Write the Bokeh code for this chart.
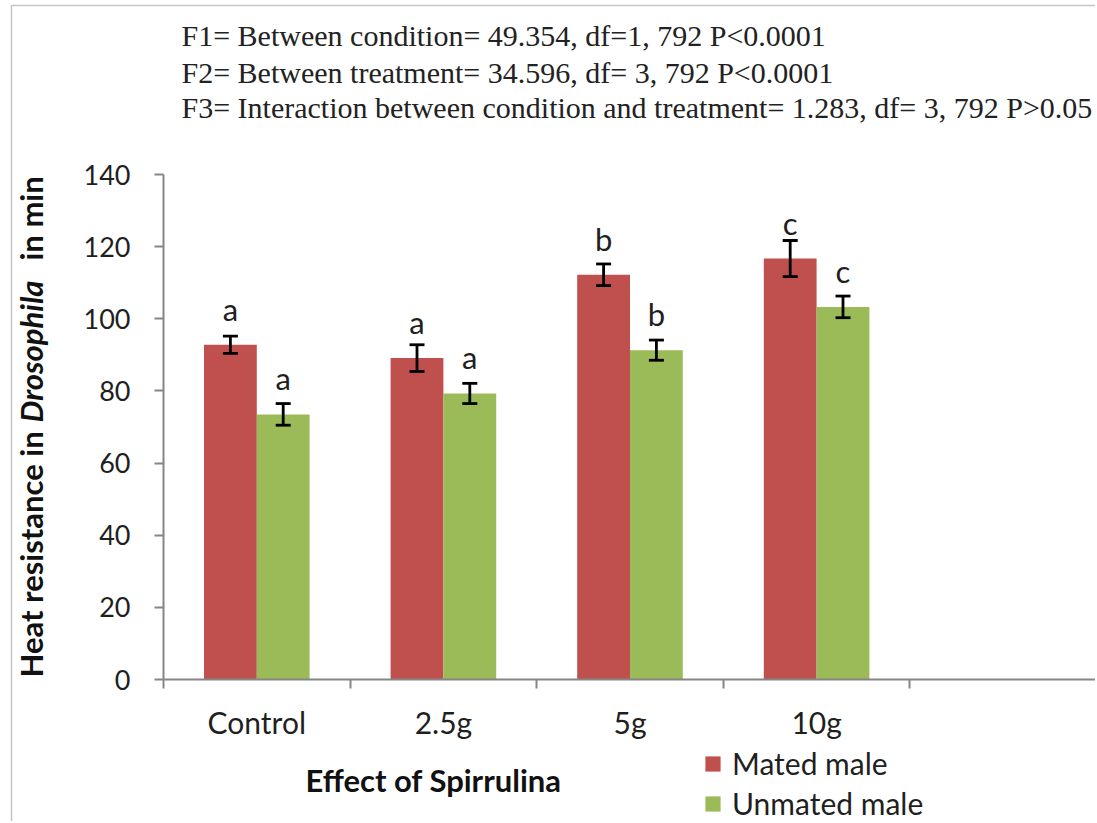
import math
from bokeh.plotting import figure
from bokeh.models import (ColumnDataSource, Range1d, FixedTicker, Label, Legend,
                          LegendItem, BoxAnnotation)
from bokeh.core.properties import value
from bokeh.embed import file_html
from bokeh.resources import INLINE

# ---------------- data ----------------
categories = ["Control", "2.5g", "5g", "10g"]
mated = [92.8, 89.1, 112.2, 116.7]
mated_err = [2.4, 3.7, 3.0, 5.0]
unmated = [73.5, 79.3, 91.3, 103.3]
unmated_err = [3.0, 2.8, 2.8, 3.0]
mated_letters = ["a", "a", "b", "c"]
unmated_letters = ["a", "a", "b", "c"]
y_ticks = [0, 20, 40, 60, 80, 100, 120, 140]
stats_lines = [
    "F1= Between condition= 49.354, df=1, 792 P<0.0001",
    "F2= Between treatment= 34.596, df= 3, 792 P<0.0001",
    "F3= Interaction between condition and treatment= 1.283, df= 3, 792 P>0.05",
]
series_names = ["Mated male", "Unmated male"]
colors = ["#C0504D", "#9BBB59"]

# ---------------- layout (page pixels) ----------------
W, H = 1095, 821
LEFT, TOP = 163, 174          # position of x=0 / y=140
FRAME_BOTTOM = 679            # position of y=0
px_per_cat = 186.6
px_per_y = (FRAME_BOTTOM - TOP) / 140.0

def fx(px):  # page pixel x -> data x
    return (px - LEFT) / px_per_cat

def fy(py):  # page pixel y -> data y
    return (FRAME_BOTTOM - py) / px_per_y

p = figure(width=W, height=H, output_backend="svg", toolbar_location=None,
           x_range=Range1d(fx(0), fx(W)), y_range=Range1d(fy(H), fy(0)),
           min_border=0, title=None)
p.grid.visible = False
p.outline_line_color = None
p.background_fill_color = "white"
p.border_fill_color = "white"

TXT = "#1f1f1f"

# outer frame line of the original figure
p.add_layout(BoxAnnotation(left=fx(11), top=fy(5), right=fx(W + 50), bottom=fy(H + 50),
                           fill_alpha=0, line_color="#404040", line_width=1.5))

bw = 0.283
off = bw / 2
centers = [i + 0.5 for i in range(len(categories))]
src_m = ColumnDataSource(dict(x=[c - off for c in centers], top=mated,
                              lo=[m - e for m, e in zip(mated, mated_err)],
                              hi=[m + e for m, e in zip(mated, mated_err)],
                              lab=mated_letters))
src_u = ColumnDataSource(dict(x=[c + off for c in centers], top=unmated,
                              lo=[m - e for m, e in zip(unmated, unmated_err)],
                              hi=[m + e for m, e in zip(unmated, unmated_err)],
                              lab=unmated_letters))

r_m = p.vbar(x="x", top="top", width=bw, bottom=0, source=src_m,
             fill_color=colors[0], line_color=None)
r_u = p.vbar(x="x", top="top", width=bw, bottom=0, source=src_u,
             fill_color=colors[1], line_color=None)

for src in (src_m, src_u):
    p.segment(x0="x", y0="lo", x1="x", y1="hi", source=src,
              line_color="black", line_width=2.8)
    p.scatter(x="x", y="lo", source=src, marker="dash", size=15,
              line_color="black", line_width=2.8)
    p.scatter(x="x", y="hi", source=src, marker="dash", size=15,
              line_color="black", line_width=2.8)
    p.text(x="x", y="top", text="lab", source=src, y_offset=-36,
           text_align="center", text_baseline="alphabetic",
           text_font=value("Lato"), text_font_size="31px", text_color=TXT)

# ---- axes (fixed at the data origin) ----
axis_col = "#868686"
xa = p.xaxis[0]
xa.fixed_location = 0
xa.bounds = (0, len(categories) + 1)
xa.ticker = FixedTicker(ticks=centers, minor_ticks=list(range(0, len(categories) + 2)))
xa.major_label_overrides = {c: n for c, n in zip(centers, categories)}
xa.major_tick_out = 0
xa.major_tick_in = 0
xa.minor_tick_out = 9
xa.minor_tick_in = 0
xa.minor_tick_line_color = axis_col
xa.minor_tick_line_width = 2
xa.axis_line_color = axis_col
xa.axis_line_width = 2
xa.major_label_text_font = "Lato"
xa.major_label_text_font_size = "30px"
xa.major_label_text_color = TXT
xa.major_label_standoff = 15

ya = p.yaxis[0]
ya.fixed_location = 0
ya.bounds = (0, 140)
ya.ticker = FixedTicker(ticks=y_ticks)
ya.major_tick_out = 9
ya.major_tick_in = 0
ya.minor_tick_out = 0
ya.minor_tick_in = 0
ya.major_tick_line_color = axis_col
ya.major_tick_line_width = 2
ya.axis_line_color = axis_col
ya.axis_line_width = 2
ya.major_label_text_font = "Lato"
ya.major_label_text_font_size = "27px"
ya.major_label_text_color = TXT
ya.major_label_standoff = 24

# ---- texts ----
p.add_layout(Label(x=fx(433), y=fy(779), text="Effect of Spirrulina",
                   text_align="center", text_baseline="middle",
                   text_font="Lato", text_font_style="bold",
                   text_font_size="31px", text_color="#111111"))

ytx = fx(30)
for txt, sy, style in [("Heat resistance in", 677, "bold"),
                       ("Drosophila", 422, "bold italic"),
                       ("in min", 260, "bold")]:
    p.add_layout(Label(x=ytx, y=fy(sy), text=txt, angle=math.pi / 2,
                       text_align="left", text_baseline="alphabetic",
                       text_font="Lato", text_font_style=style,
                       text_font_size="31px", text_color="#111111"))

for line, base in zip(stats_lines, [35, 72, 107]):
    p.add_layout(Label(x=fx(181), y=fy(base), text=line,
                       text_align="left", text_baseline="alphabetic",
                       text_font="Liberation Serif", text_font_size="30px",
                       text_color="#222222"))

legend = Legend(items=[LegendItem(label=series_names[0], renderers=[r_m]),
                       LegendItem(label=series_names[1], renderers=[r_u])],
                location=(703, 0), orientation="vertical",
                glyph_width=19, glyph_height=19, label_standoff=10,
                label_text_font="Lato", label_text_font_size="30px",
                label_text_color=TXT, spacing=4, padding=0, margin=0,
                border_line_color=None, background_fill_alpha=0)
p.add_layout(legend)

open("out.html", "w").write(file_html(p, INLINE))
